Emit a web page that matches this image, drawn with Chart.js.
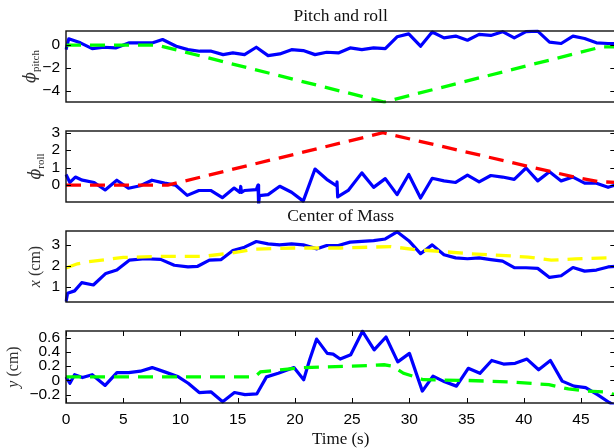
<!DOCTYPE html>
<html><head><meta charset="utf-8">
<script src="https://cdn.jsdelivr.net/npm/chart.js@4/dist/chart.umd.min.js"></script>
<style>
html,body{margin:0;padding:0;background:#fff;overflow:hidden;width:614px;height:448px;}
canvas{position:absolute;left:0;top:0;}
</style></head><body>
<canvas id="c1" width="620" height="448"></canvas>
<canvas id="c2" width="620" height="448"></canvas>
<canvas id="c3" width="620" height="448"></canvas>
<canvas id="c4" width="620" height="448"></canvas>
<script>
// ---------- data ----------
const titleTop = 'Pitch and roll';
const titleCom = 'Center of Mass';
const xAxisTitle = 'Time (s)';

const timeTicks = [0,5,10,15,20,25,30,35,40,45];
const pitchTicks = [-4,-2,0];
const rollTicks = [0,1,2,3];
const comXTicks = [1,2,3];
const comYTicks = [-0.2,0,0.2,0.4,0.6];

const pitchTime = [0,0.24,1.26,2.29,3.31,4.34,5.53,6.56,7.58,8.44,9.63,10.66,11.68,12.7,13.73,14.58,15.6,16.63,17.66,18.68,19.71,20.73,21.76,22.78,23.8,24.83,25.85,26.88,27.9,28.93,29.95,30.98,32.0,33.03,34.05,35.08,36.1,37.12,38.15,39.17,40.2,41.22,42.25,43.27,44.3,45.32,46.35,47.37,48];
const pitchMeas = [-0.39,0.56,0.21,-0.3,-0.18,-0.24,0.21,0.21,0.21,0.5,-0.09,-0.39,-0.53,-0.53,-0.83,-0.68,-0.83,-0.18,-0.92,-0.77,-0.39,-0.47,-0.83,-0.62,-0.68,-0.24,-0.39,-0.24,-0.3,0.74,1.0,-0.09,1.16,0.65,0.8,0.44,0.95,0.86,1.19,0.65,1.19,1.24,0.27,0.15,0.8,0.59,0.21,0.15,0.15];
const pitchRefTime = [0,8,27.8,46.8,48];
const pitchRef = [0,0,-5,-0.15,-0.15];

const rollTime = [0,0.34,0.82,1.43,2.46,3.42,4.44,5.46,6.49,7.51,8.61,9.56,10.59,11.61,12.64,13.66,14.69,15.2,15.27,15.33,15.6,16.63,16.78,16.83,16.9,17.66,18.68,19.71,20.73,21.76,22.78,23.63,23.68,23.74,24.66,25.85,26.88,27.9,28.93,29.95,30.98,32.0,33.03,34.05,35.08,36.1,37.12,38.15,39.17,40.2,41.22,42.25,43.27,44.3,45.32,46.35,47.37,48];
const rollMeas = [0.61,0.15,0.46,0.28,0.15,-0.28,0.28,-0.18,-0.04,0.28,0.11,0,-0.59,-0.31,-0.31,-0.72,-0.17,-0.42,-0.08,-0.42,-0.31,-0.26,0.0,-1.1,-0.6,-0.55,-0.07,-0.41,-0.92,0.92,0.33,-0.04,0.18,-0.68,-0.31,0.70,-0.13,0.37,-0.55,0.61,-0.74,0.39,0.24,0.15,0.57,0.18,0.55,0.46,0.33,0.98,0.24,0.76,0.24,0.46,0.11,0.11,-0.13,0.0];
const rollRefTime = [0,8.9,27.7,44.5,46.5,48];
const rollRef = [0,0,3,0.45,0.2,0.15];

const comXTime = [0,0.14,0.75,1.37,2.39,3.48,4.44,5.53,6.9,8.27,9.46,10.66,11.51,12.53,13.56,14.58,15.6,16.63,17.66,18.68,19.71,20.73,21.93,22.78,23.8,24.83,25.85,26.88,27.9,28.93,29.95,30.98,32.0,33.03,34.05,35.08,36.1,37.12,38.15,39.17,40.2,41.22,42.25,43.27,44.3,45.32,46.35,47.37,48];
const comXMeas = [0.3,0.7,0.81,1.2,1.09,1.64,1.8,2.27,2.34,2.31,2.03,1.95,1.98,2.27,2.3,2.73,2.89,3.16,3.05,3.0,3.05,3.0,2.81,2.97,2.97,3.13,3.17,3.2,3.28,3.62,3.2,2.58,3.0,2.53,2.38,2.34,2.38,2.3,2.23,1.92,1.91,1.88,1.45,1.53,1.92,1.75,1.8,1.95,1.98];
const comXRefTime = [0,1,2,3.5,5,8,12,14.4,16.5,20,24,28.4,30.5,32,35.2,38,40.4,42.4,44.5,47.5,48];
const comXRef = [1.9,2.1,2.2,2.3,2.4,2.45,2.45,2.61,2.8,2.85,2.85,2.92,2.77,2.72,2.58,2.5,2.42,2.27,2.33,2.39,2.4];

const comYTime = [0,0.34,0.75,1.44,2.29,3.42,4.45,5.48,6.5,7.53,8.62,9.82,10.68,11.64,12.66,13.69,14.72,15.64,16.67,17.52,18.55,19.92,20.77,21.29,21.9,22.83,23.34,23.96,24.88,25.91,26.93,27.96,28.99,30.01,31.14,32.07,33.09,34.12,35.15,36.17,37.2,38.23,39.25,40.28,41.3,42.33,43.36,44.39,45.41,46.44,47.47,48];
const comYMeas = [0.05,-0.04,0.08,0.04,0.08,-0.07,0.11,0.11,0.13,0.18,0.12,0.05,-0.04,-0.17,-0.16,-0.3,-0.17,-0.2,-0.19,0.05,0.1,0.18,0.01,0.29,0.58,0.38,0.37,0.3,0.36,0.69,0.43,0.61,0.26,0.38,-0.15,0.06,-0.02,-0.08,0.17,0.1,0.28,0.23,0.24,0.3,0.15,0.28,-0.01,-0.08,-0.1,-0.2,-0.31,-0.36];
const comYRefTime = [0,16.5,17,20.6,25,27.8,28.5,29.5,30.5,31.2,35,38.7,42.2,43.9,45.6,47,48];
const comYRef = [0.05,0.05,0.12,0.18,0.2,0.22,0.2,0.1,0.05,0.01,0.0,-0.02,-0.06,-0.12,-0.15,-0.16,-0.2];

// ---------- helpers ----------
const pts = (t, v) => t.map((x, i) => ({x, y: v[i]}));
const SANS = '"Liberation Sans", Arial, Helvetica, sans-serif';
const SERIF = '"Liberation Serif", "Times New Roman", serif';
const fmt = v => { const s = (Math.round(v*10)/10).toString(); return s.replace('-', '\u2212'); };

const decor = {
  id: 'decor',
  afterDraw(chart, args, o) {
    const {ctx, chartArea: a, scales} = chart;
    ctx.save();
    // inward ticks
    ctx.strokeStyle = '#000'; ctx.lineWidth = 1;
    const y = scales.y;
    y.ticks.forEach(t => {
      const p = Math.round(y.getPixelForValue(t.value)) + 0.5;
      ctx.beginPath(); ctx.moveTo(a.left, p); ctx.lineTo(a.left + 5, p);
      ctx.moveTo(a.right - 5, p); ctx.lineTo(a.right, p); ctx.stroke();
    });
    if (o.xTicks) {
      const x = scales.x;
      x.ticks.forEach(t => {
        const p = Math.round(x.getPixelForValue(t.value)) + 0.5;
        ctx.beginPath(); ctx.moveTo(p, a.bottom); ctx.lineTo(p, a.bottom - 5);
        ctx.moveTo(p, a.top); ctx.lineTo(p, a.top + 5); ctx.stroke();
      });
    }
    // frame
    ctx.lineWidth = 1.4; ctx.strokeStyle = '#111';
    ctx.strokeRect(a.left, a.top, a.right - a.left, a.bottom - a.top);
    // title
    if (o.title) {
      ctx.fillStyle = '#111'; ctx.font = '17.5px ' + SERIF;
      ctx.textAlign = 'center'; ctx.textBaseline = 'middle';
      ctx.fillText(o.title, (a.left + a.right) / 2, a.top - o.titleGap);
    }
    // y label with optional subscript
    if (o.ylabel) {
      const parts = o.ylabel;
      ctx.translate(o.ylx, (a.top + a.bottom) / 2 + (o.yldy || 0));
      ctx.rotate(-Math.PI / 2);
      ctx.textBaseline = 'alphabetic'; ctx.textAlign = 'left';
      let w = 0;
      parts.forEach(p => { ctx.font = p.f; p.w = ctx.measureText(p.t).width; w += p.w; });
      let cx = -w / 2;
      ctx.fillStyle = '#333';
      parts.forEach(p => { ctx.font = p.f; ctx.fillText(p.t, cx, 5 + (p.dy || 0)); cx += p.w; });
    }
    ctx.restore();
  }
};

function yScale(min, max, ticks) {
  return {
    type: 'linear', min, max,
    grid: {display: false, drawTicks: false}, border: {display: false},
    afterBuildTicks: s => { s.ticks = ticks.map(v => ({value: v})); },
    afterFit: s => { s.width = 66; },
    ticks: {color: '#000', padding: 6, autoSkip: false, font: {family: SANS, size: 15.5}, callback: v => fmt(v)}
  };
}

function makeChart(id, refT, refV, refColor, measT, measV, ymin, ymax, yt, pad, extra) {
  const xs = {
    type: 'linear', min: 0, max: 48, display: !!extra.showX,
    grid: {display: false, drawTicks: false}, border: {display: false},
    afterBuildTicks: s => { s.ticks = timeTicks.map(v => ({value: v})); },
    ticks: {color: '#000', padding: 7, autoSkip: false, maxRotation: 0, font: {family: SANS, size: 15.5}},
  };
  if (extra.showX) {
    xs.afterFit = s => { s.height = 45; };
    xs.title = {display: true, text: xAxisTitle, color: '#111', font: {family: SERIF, size: 17}, padding: {top: 0, bottom: -2}};
  }
  return new Chart(document.getElementById(id), {
    type: 'line',
    data: {datasets: [
      {data: pts(refT, refV), borderColor: refColor, borderWidth: 3.3, borderDash: [15, 9], pointRadius: 0, tension: 0, clip: 1.5},
      {data: pts(measT, measV), borderColor: '#0000ff', borderWidth: 3.2, pointRadius: 0, tension: 0, clip: 1.5, borderJoinStyle: 'round'}
    ]},
    options: {
      responsive: false, animation: false, events: [],
      layout: {padding: {left: 0, right: 4.7, top: pad[0], bottom: pad[1]}},
      plugins: {legend: {display: false}, tooltip: {enabled: false}, decor: extra.decor},
      scales: {x: xs, y: yScale(ymin, ymax, yt)}
    },
    plugins: [decor]
  });
}

const phiF = 'italic 16px "DejaVu Serif", ' + SERIF;
const subF = '11px ' + SERIF;

makeChart('c1', pitchRefTime, pitchRef, '#00ff00', pitchTime, pitchMeas, -5, 1.25, pitchTicks, [31, 346],
  {decor: {title: titleTop, titleGap: 15, ylx: 30, ylabel: [{t: '\u03d5', f: phiF}, {t: 'pitch', f: subF, dy: 4}]}});
makeChart('c2', rollRefTime, rollRef, '#ff0000', rollTime, rollMeas, -0.97, 3.1, rollTicks, [131, 246],
  {decor: {ylx: 35, ylabel: [{t: '\u03d5', f: phiF}, {t: 'roll', f: subF, dy: 4}]}});
makeChart('c3', comXRefTime, comXRef, '#ffff00', comXTime, comXMeas, 0.28, 3.66, comXTicks, [231, 146],
  {decor: {title: titleCom, titleGap: 15, ylx: 35, ylabel: [{t: 'x', f: 'italic 16px ' + SERIF}, {t: ' (cm)', f: '16px ' + SERIF}]}});
makeChart('c4', comYRefTime, comYRef, '#00ff00', comYTime, comYMeas, -0.317, 0.694, comYTicks, [331, 0],
  {showX: true, decor: {xTicks: true, ylx: 13, ylabel: [{t: 'y', f: 'italic 16px ' + SERIF}, {t: ' (cm)', f: '16px ' + SERIF}]}});
</script>
</body></html>
